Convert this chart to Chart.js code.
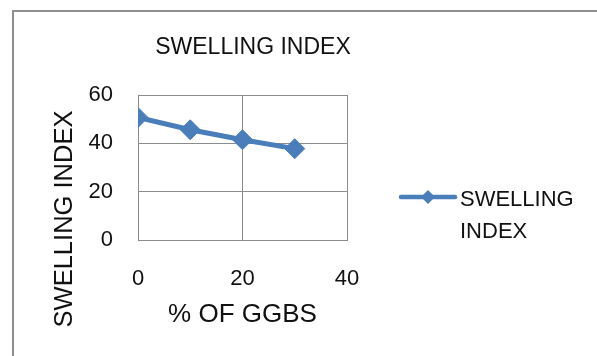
<!DOCTYPE html>
<html>
<head>
<meta charset="utf-8">
<script src="https://cdn.jsdelivr.net/npm/chart.js@4/dist/chart.umd.min.js"></script>
<style>
  html, body { margin: 0; padding: 0; background: #ffffff; }
  #wrap { width: 597px; height: 356px; position: relative; }
</style>
</head>
<body>
<div id="wrap"><canvas id="chart" width="597" height="356"></canvas></div>
<script>
// Swelling index against GGBS content
const chartTitle = 'SWELLING INDEX';
const seriesName = 'SWELLING INDEX';
const ggbsPercent = [0, 10, 20, 30];
const swellingIndex = [50.7, 45.6, 41.5, 37.8];
const xTicks = [0, 20, 40];
const yTicks = [0, 20, 40, 60];
const xTitle = '% OF GGBS';
const yTitle = 'SWELLING INDEX';

const FONT = '"Liberation Sans", Arial, sans-serif';
const LINE_BLUE = '#4a7ebb';
const GRID = '#8c8c8c';
const TEXT = '#111111';

// Frame, titles and a two-line legend entry drawn around the plot
const decorations = {
  id: 'decorations',
  afterDraw(chart) {
    const ctx = chart.ctx;
    const ds = chart.data.datasets[0];
    ctx.save();

    // outer frame (left and top edges)
    ctx.strokeStyle = '#8f8f8f';
    ctx.lineWidth = 2;
    ctx.beginPath();
    ctx.moveTo(13, 356);
    ctx.lineTo(13, 11);
    ctx.lineTo(597, 11);
    ctx.stroke();

    // chart title
    ctx.fillStyle = TEXT;
    ctx.font = '23px ' + FONT;
    ctx.textAlign = 'center';
    ctx.textBaseline = 'middle';
    ctx.fillText(chartTitle, 253, 48);

    // vertical axis title, set lower than the plot centre
    ctx.save();
    ctx.translate(65, 219);
    ctx.rotate(-Math.PI / 2);
    ctx.font = '25.5px ' + FONT;
    ctx.fillText(yTitle, 0, 0);
    ctx.restore();

    // legend swatch: line with diamond marker
    const ly = 197;
    ctx.strokeStyle = ds.borderColor;
    ctx.lineWidth = 4.5;
    ctx.lineCap = 'round';
    ctx.beginPath();
    ctx.moveTo(401, ly);
    ctx.lineTo(455, ly);
    ctx.stroke();
    ctx.fillStyle = ds.pointBackgroundColor;
    ctx.beginPath();
    ctx.moveTo(428, ly - 7);
    ctx.lineTo(435, ly);
    ctx.lineTo(428, ly + 7);
    ctx.lineTo(421, ly);
    ctx.closePath();
    ctx.fill();

    // legend text, wrapped onto two lines
    ctx.fillStyle = TEXT;
    ctx.font = '22px ' + FONT;
    ctx.textAlign = 'left';
    ctx.textBaseline = 'middle';
    const words = ds.label.split(' ');
    ctx.fillText(words[0], 460, 200);
    ctx.fillText(words.slice(1).join(' '), 460, 232);

    ctx.restore();
  }
};

new Chart(document.getElementById('chart'), {
  type: 'line',
  data: {
    datasets: [{
      label: seriesName,
      data: ggbsPercent.map((x, i) => ({ x: x, y: swellingIndex[i] })),
      borderColor: LINE_BLUE,
      backgroundColor: LINE_BLUE,
      pointBackgroundColor: LINE_BLUE,
      pointBorderColor: LINE_BLUE,
      borderWidth: 5,
      pointStyle: 'rectRot',
      pointRadius: 10,
      pointHoverRadius: 10,
      pointBorderWidth: 1,
      tension: 0,
      fill: false
    }]
  },
  options: {
    responsive: false,
    animation: false,
    events: [],
    layout: { padding: { top: 95, right: 250, bottom: 0, left: 0 } },
    plugins: {
      legend: { display: false },
      title: { display: false },
      tooltip: { enabled: false }
    },
    scales: {
      x: {
        type: 'linear',
        min: xTicks[0],
        max: xTicks[xTicks.length - 1],
        afterBuildTicks: (s) => { s.ticks = xTicks.map(v => ({ value: v })); },
        afterFit: (s) => { s.height = 116; },
        grid: { color: GRID, lineWidth: 1, drawTicks: false },
        border: { color: GRID, width: 1 },
        ticks: { padding: 26, color: TEXT, font: { family: FONT, size: 22 } },
        title: {
          display: true,
          text: xTitle,
          color: TEXT,
          font: { family: FONT, size: 26 },
          padding: { top: 0, bottom: 25.5 }
        }
      },
      y: {
        type: 'linear',
        min: yTicks[0],
        max: yTicks[yTicks.length - 1],
        afterBuildTicks: (s) => { s.ticks = yTicks.map(v => ({ value: v })); },
        afterFit: (s) => { s.width = 138; },
        grid: { color: GRID, lineWidth: 1, drawTicks: false },
        border: { color: GRID, width: 1 },
        ticks: { padding: 25, color: TEXT, font: { family: FONT, size: 22 } },
        title: { display: false }
      }
    }
  },
  plugins: [decorations]
});
</script>
</body>
</html>
